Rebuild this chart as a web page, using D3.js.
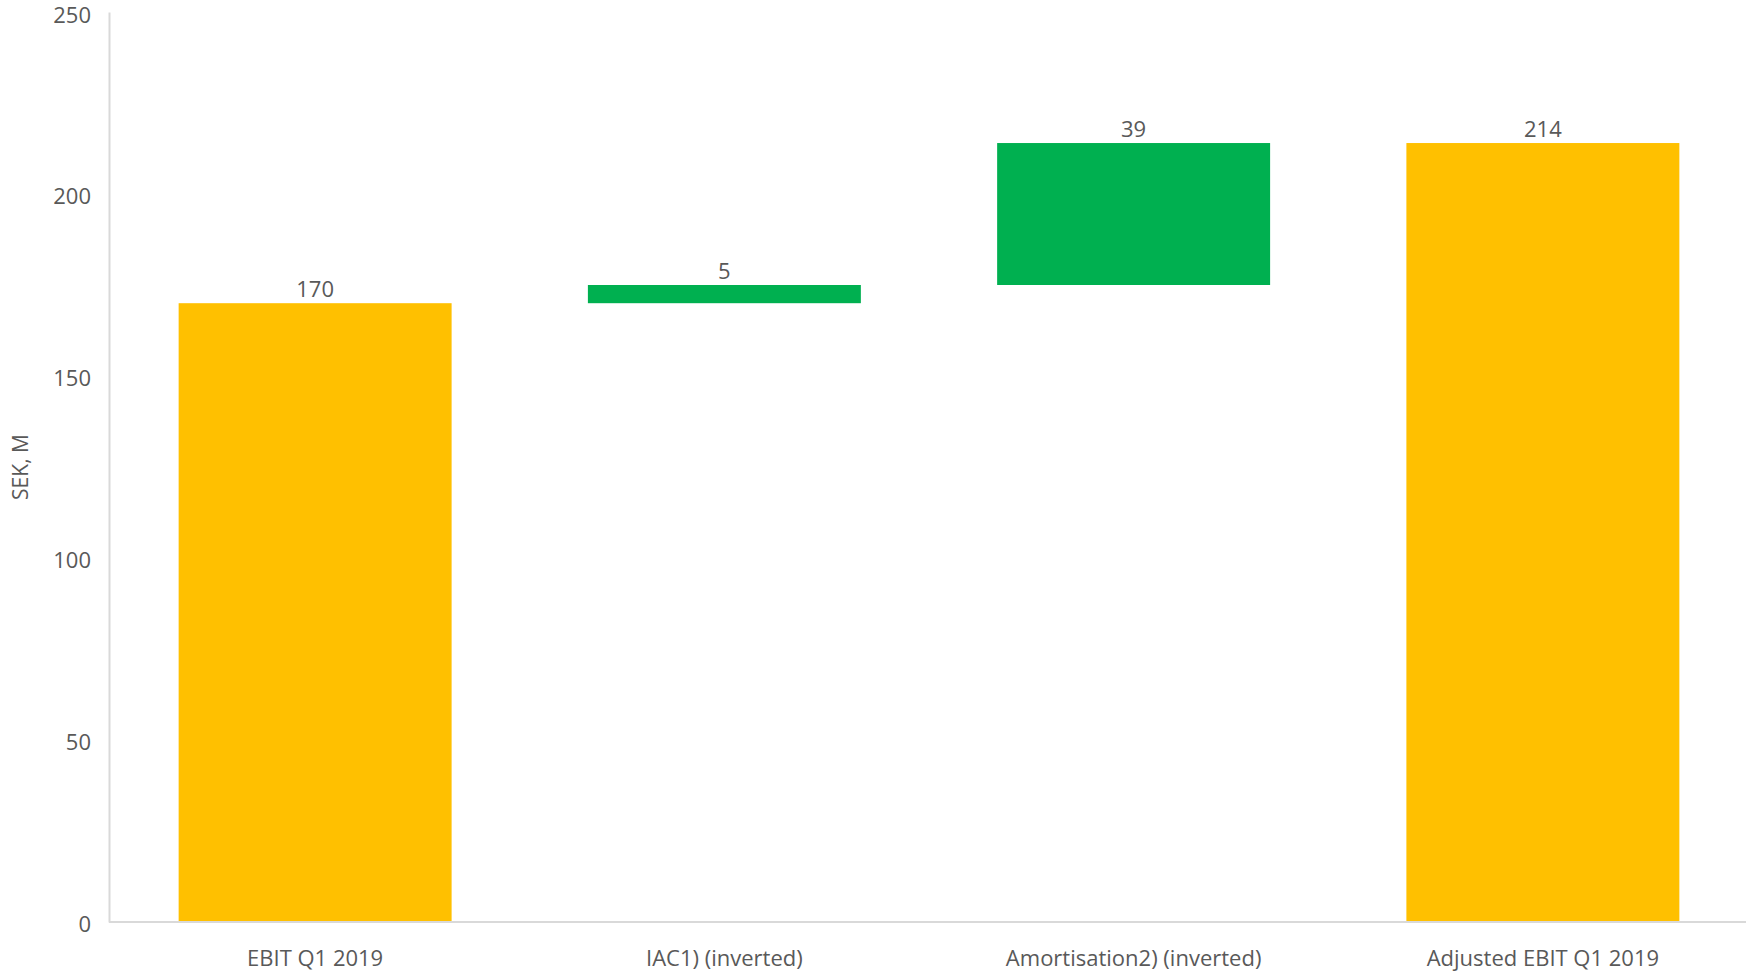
<!DOCTYPE html>
<html>
<head>
<meta charset="utf-8">
<script src="https://cdn.jsdelivr.net/npm/d3@7"></script>
<style>
  body { margin: 0; background: #fff; }
  text { font-family: "Open Sans", "Noto Sans", sans-serif; fill: #595959; }
</style>
</head>
<body>
<svg width="1746" height="974"></svg>
<script>
// waterfall data
const categories = ["EBIT Q1 2019", "IAC1) (inverted)", "Amortisation2) (inverted)", "Adjusted EBIT Q1 2019"];
const values = [170, 5, 39, 214];
const kinds = ["total", "delta", "delta", "total"];
const yTicks = [0, 50, 100, 150, 200, 250];

const colors = { total: "#FFC000", delta: "#00B050" };

// build start/end for each bar
let running = 0;
const bars = categories.map((c, i) => {
  let y0, y1;
  if (kinds[i] === "total") {
    y0 = 0; y1 = values[i]; running = values[i];
  } else {
    y0 = running; y1 = running + values[i]; running = y1;
  }
  return { cat: c, value: values[i], kind: kinds[i], y0, y1 };
});

const svg = d3.select("svg");
const width = +svg.attr("width");
const margin = { top: 12, right: 0, bottom: 52, left: 109 };
const innerH = 974 - margin.top - margin.bottom;

const x = d3.scaleBand()
  .domain(categories)
  .range([margin.left + 1.5, width + 1.5])
  .paddingInner(0.333)
  .paddingOuter(0.1665);

const y = d3.scaleLinear()
  .domain([0, 250])
  .range([margin.top + innerH, margin.top]);

// y axis
const yAxisG = svg.append("g")
  .attr("transform", `translate(${margin.left},0)`)
  .call(d3.axisLeft(y).tickValues(yTicks).tickSize(0).tickPadding(18));
yAxisG.select(".domain").attr("stroke", "#d9d9d9").attr("stroke-width", 2);
yAxisG.selectAll("text").style("font-size", "22px").attr("dy", "0.42em");
yAxisG.selectAll(".tick").filter(d => d === 250).select("text").attr("dy", "0.48em");

// x axis
const xAxisG = svg.append("g")
  .attr("transform", `translate(0,${y(0)})`)
  .call(d3.axisBottom(x).tickSize(0).tickPadding(28));
xAxisG.select(".domain").attr("d", `M${margin.left},0H${width}`)
  .attr("stroke", "#d9d9d9").attr("stroke-width", 2);
xAxisG.selectAll("text").style("font-size", "22px");

// bars
svg.selectAll("rect.bar")
  .data(bars)
  .enter()
  .append("rect")
  .attr("class", "bar")
  .attr("x", d => x(d.cat))
  .attr("width", x.bandwidth())
  .attr("y", d => y(d.y1))
  .attr("height", d => y(d.y0) - y(d.y1) - (d.kind === "total" ? 1 : 0))
  .attr("fill", d => colors[d.kind]);

// value labels
svg.selectAll("text.lbl")
  .data(bars)
  .enter()
  .append("text")
  .attr("class", "lbl")
  .attr("x", d => x(d.cat) + x.bandwidth() / 2)
  .attr("y", d => y(d.y1) - 6)
  .attr("text-anchor", "middle")
  .style("font-size", "22px")
  .text(d => d.value);

// y title
svg.append("text")
  .attr("transform", `translate(28,${y(125)}) rotate(-90)`)
  .attr("text-anchor", "middle")
  .style("font-size", "21px")
  .text("SEK, M");
</script>
</body>
</html>
